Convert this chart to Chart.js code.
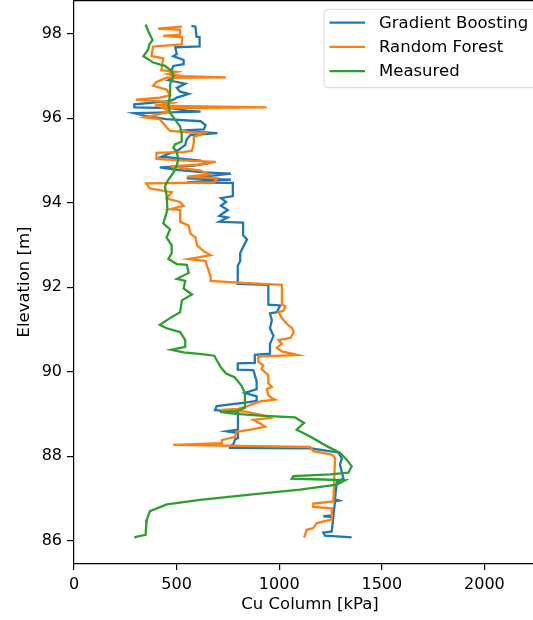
<!DOCTYPE html>
<html>
<head>
<meta charset="utf-8">
<script src="https://cdn.jsdelivr.net/npm/chart.js@4"></script>
<style>
  html, body { margin: 0; background: #fff; overflow: hidden; }
  canvas { display: block; }
</style>
</head>
<body>
<canvas id="grafico" width="546" height="620"></canvas>
<script>
// Ticks dos eixos
const xTicks = [0, 500, 1000, 1500, 2000];
const yTicks = [86, 88, 90, 92, 94, 96, 98];

// Medido (elevação, Cu)
const measElev = [98.22, 98.06, 97.85, 97.75, 97.63, 97.47, 97.32, 97.24, 97.12, 97.00, 96.80, 96.57, 96.29, 96.13, 95.97, 95.81, 95.62, 95.45, 95.38, 95.30, 95.22, 95.03, 94.87, 94.71, 94.55, 94.39, 94.16, 93.83, 93.51, 93.37, 93.18, 92.99, 92.81, 92.67, 92.55, 92.53, 92.34, 92.20, 92.15, 91.97, 91.83, 91.69, 91.41, 91.27, 91.11, 91.03, 90.94, 90.75, 90.59, 90.55, 90.52, 90.46, 90.41, 90.38, 90.10, 89.96, 89.87, 89.68, 89.50, 89.15, 89.07, 89.05, 89.01, 88.96, 88.92, 88.79, 88.63, 88.51, 88.40, 88.24, 88.08, 87.92, 87.76, 87.61, 87.57, 87.53, 87.47, 87.45, 87.43, 87.33, 87.21, 87.09, 86.97, 86.86, 86.70, 86.50, 86.37, 86.14, 86.09, 86.07];
const measCu = [349, 362, 383, 367, 362, 338, 386, 443, 476, 484, 468, 468, 460, 468, 492, 517, 525, 525, 492, 484, 500, 508, 500, 484, 460, 443, 452, 455, 435, 468, 451, 476, 476, 460, 501, 550, 559, 501, 542, 534, 575, 526, 517, 468, 418, 451, 517, 542, 542, 501, 473, 534, 633, 683, 716, 741, 782, 815, 833, 833, 793, 711, 776, 906, 1077, 1121, 1085, 1134, 1175, 1232, 1297, 1329, 1353, 1337, 1248, 1069, 1061, 1215, 1321, 1280, 1101, 858, 614, 452, 370, 355, 352, 349, 302, 294];

// Gradient Boosting
const gbElev = [98.19, 98.17, 97.93, 97.92, 97.70, 97.68, 97.52, 97.47, 97.38, 97.28, 97.24, 97.05, 96.96, 96.90, 96.82, 96.72, 96.63, 96.58, 96.49, 96.44, 96.40, 96.33, 96.26, 96.24, 96.18, 96.16, 96.12, 96.05, 95.98, 95.93, 95.84, 95.74, 95.72, 95.67, 95.65, 95.60, 95.51, 95.37, 95.25, 95.14, 95.09, 95.04, 95.00, 94.93, 94.88, 94.84, 94.78, 94.72, 94.69, 94.62, 94.58, 94.55, 94.53, 94.48, 94.47, 94.16, 94.11, 94.02, 93.93, 93.83, 93.69, 93.65, 93.55, 93.53, 93.23, 93.13, 92.95, 92.81, 92.62, 92.51, 92.08, 92.06, 91.59, 91.57, 91.41, 91.38, 91.22, 91.03, 90.85, 90.66, 90.43, 90.40, 90.21, 90.20, 90.05, 90.04, 89.78, 89.59, 89.50, 89.42, 89.31, 89.27, 89.19, 89.09, 89.06, 88.63, 88.59, 88.55, 88.43, 88.40, 88.28, 88.24, 88.20, 88.19, 88.09, 87.95, 87.80, 87.48, 87.38, 86.98, 86.95, 86.93, 86.60, 86.58, 86.56, 86.22, 86.19, 86.12, 86.10, 86.08];
const gbCu = [572, 592, 597, 612, 612, 493, 501, 484, 534, 534, 484, 468, 493, 460, 542, 501, 517, 559, 501, 484, 451, 294, 294, 468, 550, 617, 294, 352, 451, 617, 641, 633, 559, 617, 699, 567, 550, 542, 509, 451, 426, 534, 617, 650, 584, 418, 501, 633, 765, 633, 550, 765, 683, 550, 774, 774, 716, 741, 716, 749, 708, 749, 708, 824, 824, 843, 824, 810, 810, 798, 798, 947, 947, 1005, 988, 955, 964, 955, 972, 955, 955, 881, 881, 798, 798, 874, 890, 890, 833, 890, 890, 833, 695, 687, 799, 799, 744, 799, 799, 785, 776, 760, 760, 1150, 1288, 1305, 1296, 1313, 1280, 1272, 1292, 1272, 1264, 1215, 1264, 1256, 1215, 1223, 1300, 1353];

// Random Forest
const rfElev = [98.17, 98.12, 98.10, 97.98, 97.95, 97.92, 97.75, 97.70, 97.47, 97.42, 97.14, 97.10, 97.05, 97.00, 96.97, 96.96, 96.86, 96.77, 96.68, 96.54, 96.49, 96.44, 96.40, 96.37, 96.30, 96.26, 96.24, 96.16, 96.02, 95.98, 95.79, 95.70, 95.67, 95.65, 95.56, 95.42, 95.23, 95.20, 95.18, 95.04, 95.00, 94.97, 94.90, 94.86, 94.76, 94.67, 94.62, 94.58, 94.48, 94.46, 94.34, 94.30, 94.25, 94.11, 94.07, 94.02, 93.93, 93.85, 93.83, 93.55, 93.46, 93.27, 93.18, 92.99, 92.85, 92.76, 92.67, 92.62, 92.48, 92.25, 92.15, 92.11, 92.06, 91.59, 91.55, 91.45, 91.41, 91.27, 91.13, 91.03, 90.94, 90.80, 90.75, 90.66, 90.57, 90.48, 90.40, 90.36, 90.24, 90.15, 90.06, 89.92, 89.73, 89.64, 89.59, 89.45, 89.38, 89.34, 89.30, 89.18, 89.12, 89.10, 89.06, 88.97, 88.91, 88.86, 88.78, 88.70, 88.64, 88.58, 88.46, 88.38, 88.31, 88.27, 88.22, 88.12, 88.04, 87.96, 86.93, 86.88, 86.80, 86.77, 86.50, 86.42, 86.30, 86.26, 86.11, 86.08];
const rfCu = [526, 410, 517, 517, 435, 526, 526, 385, 377, 435, 426, 501, 460, 534, 741, 451, 402, 385, 451, 468, 418, 302, 418, 476, 393, 939, 435, 468, 344, 418, 451, 468, 567, 633, 584, 584, 575, 534, 402, 402, 542, 691, 600, 468, 617, 658, 550, 699, 683, 352, 369, 418, 476, 451, 476, 517, 534, 468, 517, 517, 559, 567, 592, 600, 633, 666, 559, 641, 650, 666, 666, 798, 1013, 1013, 1030, 1021, 997, 1013, 1038, 1063, 1071, 1055, 997, 1013, 988, 1013, 1088, 898, 898, 922, 914, 947, 947, 964, 939, 947, 963, 980, 906, 842, 800, 720, 830, 923, 955, 874, 906, 931, 874, 793, 785, 720, 720, 484, 1150, 1166, 1256, 1272, 1264, 1166, 1166, 1256, 1256, 1183, 1166, 1134, 1124, 1120];

const fonteTick = { family: 'DejaVu Sans', size: 16 };
const fonteTitulo = { family: 'DejaVu Sans', size: 16.5 };

// Monta pares {x, y}
function pares(cu, elev) {
    return cu.map((v, i) => ({ x: v, y: elev[i] }));
}

const series = [
    { label: 'Gradient Boosting', data: pares(gbCu, gbElev), borderColor: '#1f77b4', order: 2 },
    { label: 'Random Forest', data: pares(rfCu, rfElev), borderColor: '#ff7f0e', order: 1 },
    { label: 'Measured', data: pares(measCu, measElev), borderColor: '#2ca02c', order: 0 }
];

// Borda superior + legenda dentro da área do gráfico
const legendaInterna = {
    id: 'legendaInterna',
    afterDraw(chart) {
        const ctx = chart.ctx;
        const area = chart.chartArea;
        ctx.save();
        // borda superior (spine)
        ctx.beginPath();
        ctx.moveTo(area.left, area.top + 0.6);
        ctx.lineTo(area.right, area.top + 0.6);
        ctx.strokeStyle = '#000';
        ctx.lineWidth = 1.2;
        ctx.stroke();

        const x0 = 324, y0 = 9.3, w = 260, h = 78.4;
        ctx.beginPath();
        ctx.roundRect(x0, y0, w, h, 4);
        ctx.fillStyle = 'rgba(255,255,255,0.8)';
        ctx.fill();
        ctx.strokeStyle = '#d6d6d6';
        ctx.lineWidth = 1;
        ctx.stroke();
        ctx.font = '16.5px "DejaVu Sans"';
        ctx.textBaseline = 'middle';
        ctx.fillStyle = '#000';
        const linhas = ['Gradient Boosting', 'Random Forest', 'Measured'];
        const cores = ['#1f77b4', '#ff7f0e', '#2ca02c'];
        linhas.forEach((txt, i) => {
            const y = 22.7 + i * 24.2;
            ctx.beginPath();
            ctx.moveTo(329.5, y);
            ctx.lineTo(365, y);
            ctx.strokeStyle = cores[i];
            ctx.lineWidth = 2.3;
            ctx.stroke();
            ctx.fillText(txt, 379, y + 1);
        });
        ctx.restore();
    }
};

const config = {
    type: 'scatter',
    data: {
        datasets: series.map(s => ({
            ...s,
            showLine: true,
            borderWidth: 2.3,
            pointRadius: 0,
            tension: 0,
            fill: false
        }))
    },
    options: {
        responsive: false,
        animation: false,
        layout: { autoPadding: false, padding: 0 },
        plugins: {
            legend: { display: false },
            tooltip: { enabled: false }
        },
        scales: {
            x: {
                type: 'linear',
                min: 0,
                max: 2300,
                afterFit: s => { s.height = 56; s.paddingLeft = 0; s.paddingRight = 0; },
                afterBuildTicks: s => { s.ticks = xTicks.map(v => ({ value: v })); },
                grid: { drawOnChartArea: false, drawTicks: true, tickLength: 6, color: '#000', lineWidth: 1.2 },
                border: { display: true, color: '#000', width: 1.2 },
                ticks: { color: '#000', font: fonteTick, padding: 5, maxRotation: 0, callback: v => String(v) },
                title: { display: true, text: 'Cu Column [kPa]', color: '#000', font: fonteTitulo, padding: { top: 0, bottom: 5 } }
            },
            y: {
                type: 'linear',
                min: 85.45,
                max: 98.8,
                afterFit: s => { s.width = 74; s.paddingTop = 0; s.paddingBottom = 0; },
                afterBuildTicks: s => { s.ticks = yTicks.map(v => ({ value: v })); },
                grid: { drawOnChartArea: false, drawTicks: true, tickLength: 7, color: '#000', lineWidth: 1.2 },
                border: { display: true, color: '#000', width: 1.2 },
                ticks: { color: '#000', font: fonteTick, padding: 5, callback: v => String(v) },
                title: { display: true, text: 'Elevation [m]', color: '#000', font: fonteTitulo, padding: { top: 15, bottom: 0 } }
            }
        }
    },
    plugins: [legendaInterna]
};

new Chart(document.getElementById('grafico'), config);
</script>
</body>
</html>
